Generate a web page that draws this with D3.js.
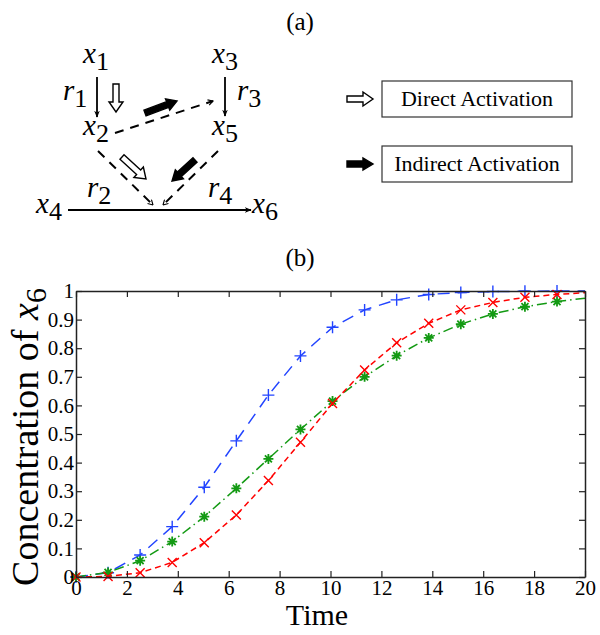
<!DOCTYPE html>
<html>
<head>
<meta charset="utf-8">
<script src="https://cdn.jsdelivr.net/npm/d3@7"></script>
<style>
  body { margin: 0; background: #fff; }
</style>
</head>
<body>
<div id="chart"></div>
<script>
const times = [0, 1.26, 2.52, 3.78, 5.04, 6.3, 7.56, 8.82, 10.08, 11.34, 12.6, 13.86, 15.12, 16.38, 17.64, 18.9];
const blueValues = [0, 0.015, 0.077, 0.176, 0.314, 0.476, 0.636, 0.773, 0.873, 0.934, 0.969, 0.988, 0.995, 0.998, 0.999, 1.0];
const greenValues = [0, 0.016, 0.057, 0.124, 0.211, 0.31, 0.413, 0.516, 0.615, 0.70, 0.774, 0.836, 0.884, 0.92, 0.945, 0.963];
const redValues = [0, 0.002, 0.015, 0.051, 0.12, 0.217, 0.337, 0.471, 0.607, 0.724, 0.819, 0.887, 0.934, 0.96, 0.978, 0.988];
const endTime = 20;
const blueEnd = 1.0, greenEnd = 0.975, redEnd = 0.994;
const xTicks = [0, 2, 4, 6, 8, 10, 12, 14, 16, 18, 20];
const yTicks = [0, 0.1, 0.2, 0.3, 0.4, 0.5, 0.6, 0.7, 0.8, 0.9, 1];
const legendLabels = ["Direct Activation", "Indirect Activation"];

const SERIF = "'Liberation Serif', 'Times New Roman', Tinos, 'DejaVu Serif', serif";
const W = 600, H = 635;
const svg = d3.select("#chart").append("svg")
    .attr("width", W).attr("height", H);

// ---------- (a) network diagram ----------
const diag = svg.append("g");
diag.append("text").attr("x", 300).attr("y", 30).attr("text-anchor", "middle")
    .attr("font-size", 25).text("(a)");

const defs = svg.append("defs");
defs.append("marker").attr("id", "thinHead")
    .attr("viewBox", "0 0 10 10").attr("refX", 9).attr("refY", 5)
    .attr("markerWidth", 7).attr("markerHeight", 7).attr("orient", "auto")
    .attr("markerUnits", "userSpaceOnUse")
    .append("path").attr("d", "M0,1 L10,5 L0,9 L3,5 Z").attr("fill", "#000");
defs.append("marker").attr("id", "openHead")
    .attr("viewBox", "0 0 10 10").attr("refX", 9).attr("refY", 5)
    .attr("markerWidth", 7).attr("markerHeight", 7).attr("orient", "auto")
    .attr("markerUnits", "userSpaceOnUse")
    .append("path").attr("d", "M2,1 L9,5 L2,9").attr("fill", "none")
    .attr("stroke", "#000").attr("stroke-width", 1.6);

// variable label with subscript
function varLabel(x, y, name, sub, size) {
    const t = diag.append("text").attr("x", x).attr("y", y).attr("font-size", size || 29);
    t.append("tspan").attr("font-style", "italic").text(name);
    t.append("tspan").attr("dy", 7).attr("font-size", (size || 29) * 0.9).text(sub);
}

function thinArrow(x1, y1, x2, y2) {
    diag.append("line").attr("x1", x1).attr("y1", y1).attr("x2", x2).attr("y2", y2)
        .attr("stroke", "#000").attr("stroke-width", 1.8).attr("marker-end", "url(#thinHead)");
}
function dashedArrow(x1, y1, x2, y2) {
    diag.append("line").attr("x1", x1).attr("y1", y1).attr("x2", x2).attr("y2", y2)
        .attr("stroke", "#000").attr("stroke-width", 2).attr("stroke-dasharray", "9,7")
        .attr("marker-end", "url(#openHead)");
}
// block arrow (hollow or filled)
function blockArrow(g, x1, y1, x2, y2, filled) {
    const len = Math.hypot(x2 - x1, y2 - y1);
    const ang = Math.atan2(y2 - y1, x2 - x1) * 180 / Math.PI;
    const sw = 3, hw = filled ? 6 : 7, hl = 10;
    const pts = [[0, -sw], [len - hl, -sw], [len - hl, -hw], [len, 0], [len - hl, hw], [len - hl, sw], [0, sw]];
    g.append("polygon")
        .attr("points", pts.map(p => p.join(",")).join(" "))
        .attr("transform", `translate(${x1},${y1}) rotate(${ang})`)
        .attr("fill", filled ? "#000" : "#fff").attr("stroke", "#000").attr("stroke-width", 1.4);
}

varLabel(83, 63, "x", "1");
varLabel(212, 63, "x", "3");
varLabel(83, 135, "x", "2");
varLabel(212, 135, "x", "5");
varLabel(36, 213, "x", "4");
varLabel(252, 213, "x", "6");
varLabel(63, 100, "r", "1");
varLabel(237, 100, "r", "3");
varLabel(87, 197, "r", "2");
varLabel(208, 197, "r", "4");

thinArrow(97, 77, 97, 117);
thinArrow(225, 77, 225, 116);
thinArrow(68, 210, 251, 210);
blockArrow(diag, 116, 84, 116, 112, false);
dashedArrow(115, 133, 213, 101);
blockArrow(diag, 145, 113, 177, 101, true);
dashedArrow(98, 151, 153, 205);
blockArrow(diag, 122, 157, 146, 179, false);
dashedArrow(218, 151, 163, 205);
blockArrow(diag, 195, 160, 172, 181, true);

// legend
legendLabels.forEach((lab, i) => {
    const yc = 99 + i * 65;
    blockArrow(diag, 347, yc, 373, yc, i === 1);
    diag.append("rect").attr("x", 382).attr("y", yc - 18).attr("width", 190).attr("height", 36)
        .attr("fill", "#fff").attr("stroke", "#333").attr("stroke-width", 1.2);
    diag.append("text").attr("x", 477).attr("y", yc + 7).attr("text-anchor", "middle")
        .attr("font-size", 22).text(lab);
});

// ---------- (b) concentration plot ----------
svg.append("text").attr("x", 300).attr("y", 266).attr("text-anchor", "middle")
    .attr("font-size", 25).text("(b)");

const plot = { left: 76, right: 585, top: 291, bottom: 577 };
const x = d3.scaleLinear().domain([0, 20]).range([plot.left, plot.right]);
const y = d3.scaleLinear().domain([0, 1]).range([plot.bottom, plot.top]);

const g = svg.append("g");

// series
const series = [
    { vals: blueValues, end: blueEnd, color: "#2244ff", dash: "12,8", marker: "plus" },
    { vals: greenValues, end: greenEnd, color: "#139a13", dash: "10,4,1.5,4", marker: "star" },
    { vals: redValues, end: redEnd, color: "#ff0000", dash: "6,4", marker: "cross" }
];
const line = d3.line().x(d => x(d[0])).y(d => y(d[1]));

series.forEach(s => {
    const pts = times.map((t, i) => [t, s.vals[i]]).concat([[endTime, s.end]]);
    g.append("path").datum(pts).attr("d", line)
        .attr("fill", "none").attr("stroke", s.color).attr("stroke-width", 1.5)
        .attr("stroke-dasharray", s.dash);
    const m = g.append("g").selectAll("path").data(times.map((t, i) => [t, s.vals[i]]))
        .enter().append("path")
        .attr("transform", d => `translate(${x(d[0])},${y(d[1])})`)
        .attr("fill", "none").attr("stroke", s.color).attr("stroke-width", 1.4);
    if (s.marker === "plus") m.attr("d", "M-6,0 L6,0 M0,-6 L0,6");
    else if (s.marker === "cross") m.attr("d", "M-4.5,-4.5 L4.5,4.5 M-4.5,4.5 L4.5,-4.5");
    else m.attr("d", "M-5,0 L5,0 M0,-5 L0,5 M-3.5,-3.5 L3.5,3.5 M-3.5,3.5 L3.5,-3.5").attr("stroke-width", 1.8);
});

// axes (box with inward ticks)
const axisStyle = sel => {
    sel.select(".domain").attr("stroke", "#222").attr("stroke-width", 1.5);
    sel.selectAll(".tick line").attr("stroke", "#222").attr("stroke-width", 1.2);
    sel.selectAll("text").attr("font-size", 21).attr("fill", "#000");
};
svg.append("g").attr("transform", `translate(0,${plot.bottom})`)
    .call(d3.axisBottom(x).tickValues(xTicks).tickSizeInner(-6).tickSizeOuter(0).tickPadding(3).tickFormat(d3.format("d")))
    .call(axisStyle);
svg.append("g").attr("transform", `translate(0,${plot.top})`)
    .call(d3.axisTop(x).tickValues(xTicks).tickSizeInner(-6).tickSizeOuter(0).tickFormat(""))
    .call(axisStyle);
svg.append("g").attr("transform", `translate(${plot.left},0)`)
    .call(d3.axisLeft(y).tickValues(yTicks).tickSizeInner(-6).tickSizeOuter(0).tickPadding(2).tickFormat(d => d3.format("")(d)))
    .call(axisStyle);
svg.append("g").attr("transform", `translate(${plot.right},0)`)
    .call(d3.axisRight(y).tickValues(yTicks).tickSizeInner(-6).tickSizeOuter(0).tickFormat(""))
    .call(axisStyle);

// axis titles
svg.append("text").attr("x", 317).attr("y", 625).attr("text-anchor", "middle")
    .attr("font-size", 30).text("Time");
const yl = svg.append("text")
    .attr("transform", `translate(38,${(plot.top + plot.bottom) / 2 + 3}) rotate(-90)`)
    .attr("text-anchor", "middle").attr("font-size", 38);
yl.append("tspan").text("Concentration of ");
yl.append("tspan").attr("font-style", "italic").text("x");
yl.append("tspan").attr("dy", 8).attr("font-size", 30).text("6");

// one serif face for every text
svg.selectAll("text").style("font-family", SERIF);
</script>
</body>
</html>
